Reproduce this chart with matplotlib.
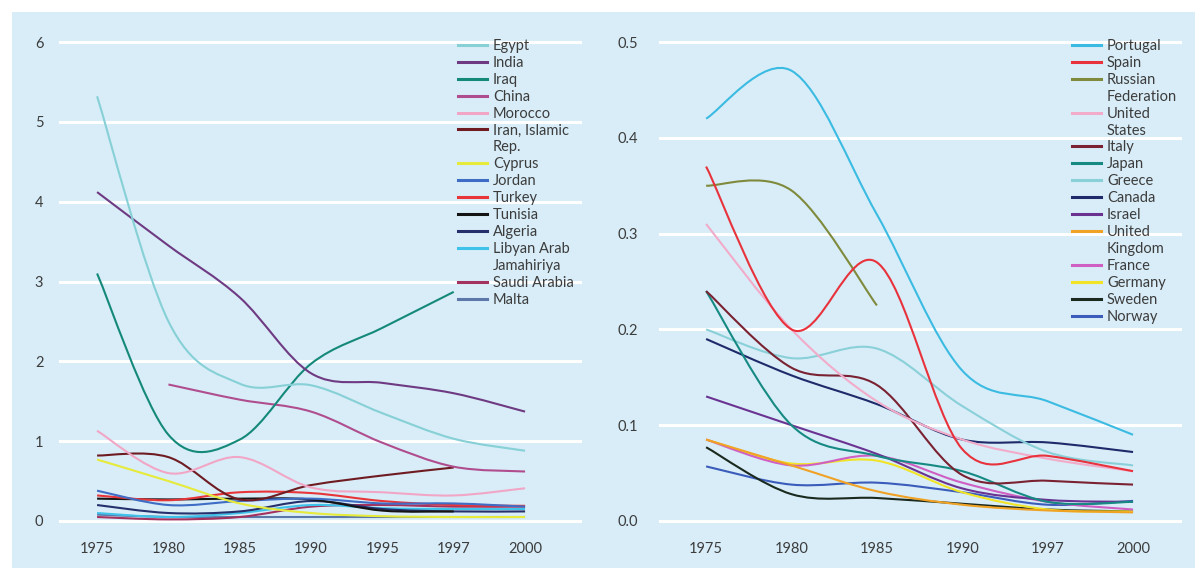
import matplotlib

matplotlib.use("Agg")
import matplotlib.pyplot as plt
from matplotlib.lines import Line2D
from matplotlib.patches import PathPatch, Rectangle
from matplotlib.path import Path

plt.rcParams["font.family"] = ["Lato", "DejaVu Sans"]

# ---- Daten ---------------------------------------------------------------
years_left = ["1975", "1980", "1985", "1990", "1995", "1997", "2000"]
egypt = [5.32, 2.5, 1.72, 1.70, 1.35, 1.03, 0.88]
india = [4.12, 3.45, 2.8, 1.85, 1.73, 1.6, 1.37]
iraq = [3.1, 1.08, 1.02, 1.97, 2.42, 2.87, None]
china = [None, 1.71, 1.52, 1.37, 0.98, 0.68, 0.62]
morocco = [1.13, 0.6, 0.8, 0.42, 0.36, 0.32, 0.41]
iran = [0.82, 0.8, 0.27, 0.45, 0.57, 0.67, None]
cyprus = [0.77, 0.5, 0.22, 0.1, 0.06, 0.05, 0.05]
jordan = [0.38, 0.2, 0.25, 0.28, 0.22, 0.22, 0.18]
turkey = [0.32, 0.26, 0.36, 0.35, 0.25, 0.2, 0.19]
tunisia = [0.28, 0.27, 0.28, 0.27, 0.13, 0.12, None]
algeria = [0.2, 0.1, 0.12, 0.25, 0.15, 0.12, 0.12]
libya = [0.1, 0.05, 0.1, 0.2, 0.16, 0.15, 0.15]
saudi_arabia = [0.05, 0.02, 0.05, 0.18, 0.2, 0.18, 0.18]
malta = [0.08, 0.05, 0.05, 0.05, 0.05, 0.05, 0.05]

years_right = ["1975", "1980", "1985", "1990", "1997", "2000"]
portugal = [0.42, 0.47, 0.32, 0.157, 0.125, 0.09]
spain = [0.37, 0.2, 0.27, 0.075, 0.068, 0.052]
russia = [0.35, 0.345, 0.225, None, None, None]
united_states = [0.31, 0.2, 0.125, 0.085, 0.065, 0.052]
italy = [0.24, 0.16, 0.142, 0.048, 0.042, 0.038]
japan = [0.24, 0.1, 0.068, 0.052, 0.02, 0.02]
greece = [0.2, 0.17, 0.18, 0.12, 0.072, 0.058]
canada = [0.19, 0.152, 0.122, 0.085, 0.082, 0.072]
israel = [0.13, 0.1, 0.07, 0.034, 0.022, 0.02]
united_kingdom = [0.085, 0.058, 0.031, 0.017, 0.011, 0.009]
france = [0.085, 0.058, 0.068, 0.04, 0.02, 0.012]
germany = [0.085, 0.06, 0.063, 0.03, 0.012, 0.01]
sweden = [0.077, 0.028, 0.024, 0.018, 0.012, 0.01]
norway = [0.057, 0.038, 0.04, 0.03, 0.017, 0.021]

left_series = [
    ("Egypt", egypt, "#86d0d6"),
    ("India", india, "#6e3a82"),
    ("Iraq", iraq, "#14897a"),
    ("China", china, "#b04d8e"),
    ("Morocco", morocco, "#f2a6c6"),
    ("Iran, Islamic\nRep.", iran, "#6e1c22"),
    ("Cyprus", cyprus, "#e6ea3a"),
    ("Jordan", jordan, "#3f6cc4"),
    ("Turkey", turkey, "#e8353a"),
    ("Tunisia", tunisia, "#141414"),
    ("Algeria", algeria, "#25306c"),
    ("Libyan Arab\nJamahiriya", libya, "#3fc2ea"),
    ("Saudi Arabia", saudi_arabia, "#a3335e"),
    ("Malta", malta, "#5b78a8"),
]

right_series = [
    ("Portugal", portugal, "#3cbbe2"),
    ("Spain", spain, "#e8323c"),
    ("Russian\nFederation", russia, "#7f8a3c"),
    ("United\nStates", united_states, "#f2abc9"),
    ("Italy", italy, "#7a2232"),
    ("Japan", japan, "#168a82"),
    ("Greece", greece, "#8ad0d8"),
    ("Canada", canada, "#1e2a6a"),
    ("Israel", israel, "#6a3392"),
    ("United\nKingdom", united_kingdom, "#f0a224"),
    ("France", france, "#d05fc4"),
    ("Germany", germany, "#f1e426"),
    ("Sweden", sweden, "#1b2a1e"),
    ("Norway", norway, "#3b5cba"),
]

BACKGROUND = "#d8edf8"
TEXT_COLOR = "#3c3c3c"


def smooth_segments(values):
    """Zerlegt eine Reihe mit Luecken in zusammenhaengende Stuecke."""
    segments, current = [], []
    for index, value in enumerate(values):
        if value is None:
            if current:
                segments.append(current)
            current = []
        else:
            current.append((index, value))
    if current:
        segments.append(current)
    return segments


def draw_smooth_line(ax, values, color):
    # Catmull-Rom als Bezier-Pfad, damit die Linien weich wie im Original wirken
    for points in smooth_segments(values):
        if len(points) < 2:
            continue
        vertices = [points[0]]
        codes = [Path.MOVETO]
        for i in range(len(points) - 1):
            p0 = points[max(i - 1, 0)]
            p1 = points[i]
            p2 = points[i + 1]
            p3 = points[min(i + 2, len(points) - 1)]
            c1 = (p1[0] + (p2[0] - p0[0]) / 6, p1[1] + (p2[1] - p0[1]) / 6)
            c2 = (p2[0] - (p3[0] - p1[0]) / 6, p2[1] - (p3[1] - p1[1]) / 6)
            vertices += [c1, c2, p2]
            codes += [Path.CURVE4] * 3
        patch = PathPatch(
            Path(vertices, codes),
            facecolor="none",
            edgecolor=color,
            linewidth=1.5,
            capstyle="butt",
            clip_on=False,
            zorder=2,
        )
        ax.add_patch(patch)


def legend_entries(series):
    # Umbrochene Namen: zweite Zeile als eigener Eintrag ohne Linie
    handles, labels = [], []
    for name, _, color in series:
        parts = name.split("\n")
        handles.append(Line2D([], [], color=color, linewidth=2.2))
        labels.append(parts[0])
        for extra in parts[1:]:
            handles.append(Line2D([], [], color="none"))
            labels.append(extra)
    return handles, labels


def style_axes(ax, years, ylim, yticks, ytick_labels, xlim, ypad):
    ax.set_facecolor("none")
    for spine in ax.spines.values():
        spine.set_visible(False)
    ax.set_xlim(*xlim)
    ax.set_ylim(*ylim)
    ax.set_xticks(range(len(years)))
    ax.set_xticklabels(years)
    ax.set_yticks(yticks)
    ax.set_yticklabels(ytick_labels)
    ax.tick_params(axis="both", length=0, labelsize=10.5, colors=TEXT_COLOR)
    ax.tick_params(axis="x", pad=15)
    ax.tick_params(axis="y", pad=ypad)
    for tick in yticks:
        ax.axhline(tick, color="white", linewidth=2.2, zorder=1, clip_on=False)


fig = plt.figure(figsize=(12.02, 5.74), dpi=100)
fig.patch.set_facecolor("white")
fig.patches.append(
    Rectangle(
        (12 / 1202, 6 / 574),
        1183 / 1202,
        556 / 574,
        transform=fig.transFigure,
        facecolor=BACKGROUND,
        edgecolor="none",
        zorder=-10,
    )
)

ax_left = fig.add_axes([60 / 1202, 53 / 574, 520 / 1202, 479 / 574], zorder=1)
ax_right = fig.add_axes([660 / 1202, 53 / 574, 520 / 1202, 479 / 574], zorder=1)

style_axes(
    ax_left,
    years_left,
    (0, 6),
    [0, 1, 2, 3, 4, 5, 6],
    ["0", "1", "2", "3", "4", "5", "6"],
    (-0.52, 6.77),
    12,
)
style_axes(
    ax_right,
    years_right,
    (0, 0.5),
    [0.0, 0.1, 0.2, 0.3, 0.4, 0.5],
    ["0.0", "0.1", "0.2", "0.3", "0.4", "0.5"],
    (-0.54, 5.55),
    16,
)

for name, values, color in reversed(left_series):
    draw_smooth_line(ax_left, values, color)
for name, values, color in reversed(right_series):
    draw_smooth_line(ax_right, values, color)

for ax, series, anchor in [
    (ax_left, left_series, (458 / 1202, 1 - 39 / 574)),
    (ax_right, right_series, (1072 / 1202, 1 - 39 / 574)),
]:
    handles, labels = legend_entries(series)
    legend = ax.legend(
        handles,
        labels,
        loc="upper left",
        bbox_to_anchor=anchor,
        bbox_transform=fig.transFigure,
        frameon=False,
        fontsize=10.5,
        labelspacing=0.2,
        handlelength=2.0,
        handletextpad=0.4,
        borderpad=0,
        borderaxespad=0,
    )
    legend.set_zorder(5)
    for text in legend.get_texts():
        text.set_color(TEXT_COLOR)

fig.savefig("out.png", dpi=100, facecolor="white")
